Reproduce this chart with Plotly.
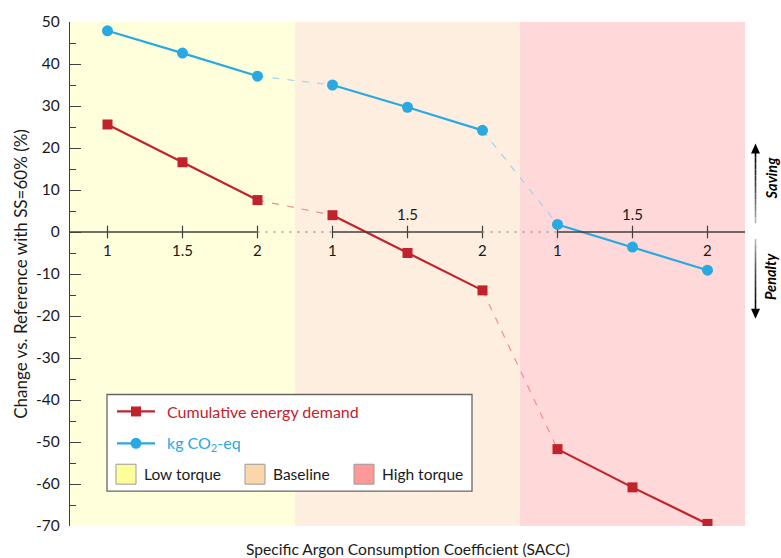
import plotly.graph_objects as go

# SACC levels inside each torque scenario, and their positions along the x axis
sacc_labels = ["1", "1.5", "2", "1", "1.5", "2", "1", "1.5", "2"]
x_pos = [0, 1, 2, 3, 4, 5, 6, 7, 8]
label_above = [False, False, False, False, True, False, False, True, False]

# Change vs. reference (%) for each indicator
ced = [25.6, 16.6, 7.6, 4.0, -5.0, -13.9, -51.7, -60.8, -69.5]
co2 = [47.9, 42.6, 37.1, 35.0, 29.7, 24.2, 1.8, -3.6, -9.1]

# y axis ticks (plain hyphen for negatives)
y_ticks = [50, 40, 30, 20, 10, 0, -10, -20, -30, -40, -50, -60, -70]
y_tick_text = ["50", "40", "30", "20", "10", "0", "-10", "-20", "-30", "-40", "-50", "-60", "-70"]

scenarios = ["Low torque", "Baseline", "High torque"]
scenario_bg = ["#FFFFDC", "#FDEEDF", "#FFD8D9"]
scenario_swatch = ["#FFFF99", "#FCD5AB", "#FF9999"]

RED = "#C1232C"
BLUE = "#29A9E1"
RED_LIGHT = "#EB8F97"
BLUE_LIGHT = "#9FD3EF"
AXIS = "#404040"
TEXT = "#1a1a1a"
FONT = "Lato"

# plot-area geometry in pixels (used for the hand-built legend and side arrows)
W, H = 781, 558
L, R, T, B = 70, 745, 20, 526


def px(xp):
    return (xp - L) / (R - L)


def py(yp):
    return (B - yp) / (B - T)


fig = go.Figure()

# scenario background bands
shapes = []
for i, c in enumerate(scenario_bg):
    shapes.append(dict(type="rect", xref="x", yref="paper", x0=3 * i - 0.5, x1=3 * i + 2.5,
                       y0=0, y1=1, fillcolor=c, line=dict(width=0), layer="below"))

# x axis drawn along y = 0: solid inside a scenario, dotted between scenarios
for g in range(3):
    x0 = -0.5 if g == 0 else 3 * g
    x1 = 8.5 if g == 2 else 3 * g + 2
    shapes.append(dict(type="line", xref="x", yref="y", x0=x0, x1=x1, y0=0, y1=0,
                       line=dict(color=AXIS, width=1.3), layer="above"))
for g in range(2):
    shapes.append(dict(type="line", xref="x", yref="y", x0=3 * g + 2, x1=3 * g + 3, y0=0, y1=0,
                       line=dict(color="#A0A0A0", width=1.3, dash="2px,6px"), layer="above"))

# dashed connectors between scenarios
for g in range(2):
    a, b = 3 * g + 2, 3 * g + 3
    fig.add_trace(go.Scatter(x=[x_pos[a], x_pos[b]], y=[co2[a], co2[b]], mode="lines",
                             line=dict(color=BLUE_LIGHT, width=1.2, dash="7px,8px"),
                             showlegend=False, hoverinfo="skip"))
    fig.add_trace(go.Scatter(x=[x_pos[a], x_pos[b]], y=[ced[a], ced[b]], mode="lines",
                             line=dict(color=RED_LIGHT, width=1.2, dash="7px,8px"),
                             showlegend=False, hoverinfo="skip"))

# tick marks on the y = 0 axis
fig.add_trace(go.Scatter(x=x_pos, y=[0] * len(x_pos), mode="markers",
                         marker=dict(symbol="line-ns", size=9, line=dict(color=AXIS, width=1.2)),
                         showlegend=False, hoverinfo="skip"))

# solid series within each scenario
for g in range(3):
    s = slice(3 * g, 3 * g + 3)
    fig.add_trace(go.Scatter(x=x_pos[s], y=co2[s], mode="lines+markers",
                             line=dict(color=BLUE, width=2.2),
                             marker=dict(symbol="circle", size=11, color=BLUE),
                             showlegend=False))
    fig.add_trace(go.Scatter(x=x_pos[s], y=ced[s], mode="lines+markers",
                             line=dict(color=RED, width=2.2),
                             marker=dict(symbol="square", size=10, color=RED),
                             showlegend=False))

annotations = []

# SACC tick labels (a few sit above the axis to keep clear of the lines)
for x, t, up in zip(x_pos, sacc_labels, label_above):
    annotations.append(dict(xref="x", yref="y", x=x, y=0, text=t, showarrow=False,
                            xanchor="center", yanchor="middle", yshift=18 if up else -18,
                            font=dict(family=FONT, size=15, color=TEXT)))

# legend box
shapes.append(dict(type="rect", xref="paper", yref="paper", x0=px(107), x1=px(472),
                   y0=py(491), y1=py(394), fillcolor="white",
                   line=dict(color="#666666", width=1.3), layer="above"))
# legend: line entries
for yy, col, sym, name in [(411, RED, "square", "Cumulative energy demand"),
                           (443, BLUE, "circle", "kg CO<sub>2</sub>-eq")]:
    shapes.append(dict(type="line", xref="paper", yref="paper", x0=px(117), x1=px(155),
                       y0=py(yy), y1=py(yy), line=dict(color=col, width=2.2), layer="above"))
    if sym == "square":
        shapes.append(dict(type="rect", xref="paper", yref="paper", x0=px(131), x1=px(141),
                           y0=py(yy + 5), y1=py(yy - 5), fillcolor=col, line=dict(width=0),
                           layer="above"))
    else:
        shapes.append(dict(type="circle", xref="paper", yref="paper", x0=px(130.5), x1=px(141.5),
                           y0=py(yy + 5.5), y1=py(yy - 5.5), fillcolor=col, line=dict(width=0),
                           layer="above"))
    annotations.append(dict(xref="paper", yref="paper", x=px(165), y=py(yy), text=name,
                            showarrow=False, xanchor="left", yanchor="middle",
                            font=dict(family=FONT, size=16, color=col)))
# legend: scenario swatches
for x0, name, c in zip([116, 245, 354], scenarios, scenario_swatch):
    shapes.append(dict(type="rect", xref="paper", yref="paper", x0=px(x0), x1=px(x0 + 20),
                       y0=py(484), y1=py(464), fillcolor=c,
                       line=dict(color="#9a9a9a", width=1), layer="above"))
    annotations.append(dict(xref="paper", yref="paper", x=px(x0 + 26), y=py(474), text=name,
                            showarrow=False, xanchor="left", yanchor="middle",
                            font=dict(family=FONT, size=15.5, color=TEXT)))

# Saving / Penalty arrows fading away from the head
ax = 755.5
n = 12
for i in range(n):
    shade = int(230 - 230 * ((i + 1) / n) ** 0.6)
    col = f"rgb({shade},{shade},{shade})"
    # Saving: head at top
    ya = 222 - (222 - 150) * i / n
    yb = 222 - (222 - 150) * (i + 1) / n
    shapes.append(dict(type="line", xref="paper", yref="paper", x0=px(ax), x1=px(ax),
                       y0=py(ya), y1=py(yb), line=dict(color=col, width=1.6)))
    # Penalty: head at bottom
    ya = 238 + (310 - 238) * i / n
    yb = 238 + (310 - 238) * (i + 1) / n
    shapes.append(dict(type="line", xref="paper", yref="paper", x0=px(ax), x1=px(ax),
                       y0=py(ya), y1=py(yb), line=dict(color=col, width=1.6)))
shapes.append(dict(type="path", xref="paper", yref="paper",
                   path=f"M {px(ax - 4.5)} {py(152)} L {px(ax + 4.5)} {py(152)} L {px(ax)} {py(142)} Z",
                   fillcolor="black", line=dict(width=0)))
shapes.append(dict(type="path", xref="paper", yref="paper",
                   path=f"M {px(ax - 4.5)} {py(308)} L {px(ax + 4.5)} {py(308)} L {px(ax)} {py(318)} Z",
                   fillcolor="black", line=dict(width=0)))
annotations.append(dict(xref="paper", yref="paper", x=px(771), y=py(177), text="<b><i>Saving</i></b>",
                        textangle=-90, showarrow=False, xanchor="center", yanchor="middle",
                        font=dict(family=FONT, size=14.5, color="black")))
annotations.append(dict(xref="paper", yref="paper", x=px(771), y=py(276), text="<b><i>Penalty</i></b>",
                        textangle=-90, showarrow=False, xanchor="center", yanchor="middle",
                        font=dict(family=FONT, size=14.5, color="black")))

# x axis title
annotations.append(dict(xref="paper", yref="paper", x=0.5, y=py(549),
                        text="Specific Argon Consumption Coefficient (SACC)",
                        showarrow=False, xanchor="center", yanchor="middle",
                        font=dict(family=FONT, size=15.6, color=TEXT)))

fig.update_layout(
    width=W, height=H,
    margin=dict(l=L, r=W - R, t=T, b=H - B),
    paper_bgcolor="white", plot_bgcolor="white",
    font=dict(family=FONT, size=15, color=TEXT),
    showlegend=False,
    shapes=shapes, annotations=annotations,
    xaxis=dict(range=[-0.5, 8.5], visible=False, fixedrange=True),
    yaxis=dict(range=[-70, 50], tickmode="array", tickvals=y_ticks, ticktext=y_tick_text,
               ticks="inside", ticklen=11, tickwidth=1.2,
               tickcolor=AXIS, showline=True, linecolor=AXIS, linewidth=1.3, showgrid=False,
               zeroline=False, ticklabelstandoff=6,
               minor=dict(dtick=5, tick0=0, ticks="inside", ticklen=6, tickcolor=AXIS, tickwidth=1.2),
               title=dict(text="Change vs. Reference with SS=60% (%)", standoff=4,
                          font=dict(family=FONT, size=17, color=TEXT)),
               tickfont=dict(family=FONT, size=15.5, color=TEXT), fixedrange=True),
)

fig.write_html("out.html")
